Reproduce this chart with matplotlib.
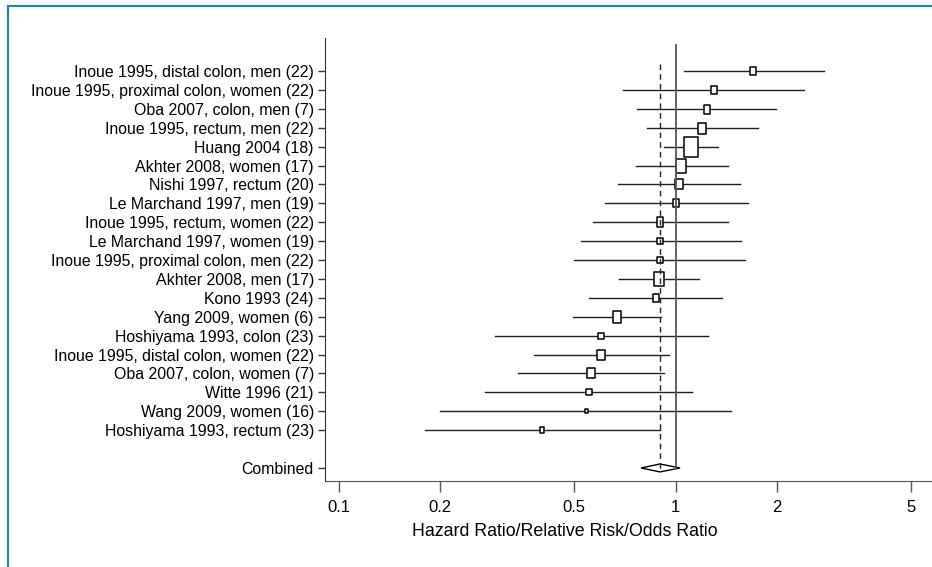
import numpy as np
import matplotlib.pyplot as plt
from matplotlib.path import Path
from matplotlib.patches import Polygon
from matplotlib.lines import Line2D

plt.rcParams['font.family'] = ['Liberation Sans', 'DejaVu Sans']

studies = ["Inoue 1995, distal colon, men (22)",
           "Inoue 1995, proximal colon, women (22)",
           "Oba 2007, colon, men (7)",
           "Inoue 1995, rectum, men (22)",
           "Huang 2004 (18)",
           "Akhter 2008, women (17)",
           "Nishi 1997, rectum (20)",
           "Le Marchand 1997, men (19)",
           "Inoue 1995, rectum, women (22)",
           "Le Marchand 1997, women (19)",
           "Inoue 1995, proximal colon, men (22)",
           "Akhter 2008, men (17)",
           "Kono 1993 (24)",
           "Yang 2009, women (6)",
           "Hoshiyama 1993, colon (23)",
           "Inoue 1995, distal colon, women (22)",
           "Oba 2007, colon, women (7)",
           "Witte 1996 (21)",
           "Wang 2009, women (16)",
           "Hoshiyama 1993, rectum (23)"]
est = [1.70, 1.30, 1.24, 1.20, 1.11, 1.04, 1.02, 1.00, 0.90, 0.90,
       0.90, 0.89, 0.876, 0.671, 0.600, 0.601, 0.562, 0.553, 0.543, 0.402]
lo = [1.06, 0.70, 0.767, 0.822, 0.921, 0.762, 0.674, 0.617, 0.567, 0.523,
      0.50, 0.68, 0.554, 0.495, 0.290, 0.380, 0.341, 0.271, 0.20, 0.18]
hi = [2.75, 2.41, 1.99, 1.75, 1.335, 1.43, 1.55, 1.64, 1.43, 1.56,
      1.61, 1.17, 1.37, 0.903, 1.25, 0.953, 0.921, 1.116, 1.46, 0.90]
# relative weight ~ box height
weight = [8, 8, 9, 11, 20, 13.3, 9.7, 8, 9.3, 6.7,
          6.7, 13.3, 8.3, 11.7, 6.7, 10, 9.7, 6.7, 4, 5.7]
comb_est, comb_lo, comb_hi = 0.898, 0.789, 1.03
xticks = [0.1, 0.2, 0.5, 1, 2, 5]

fig = plt.figure(figsize=(9.32, 5.67), dpi=100)
ax = fig.add_axes([325/932, 86/567, 607/932, 443/567])
ax.set_xscale('log')

n = len(studies)
ys = -np.arange(n)
comb_y = -21

box = Path([(-0.75, -1), (0.75, -1), (0.75, 1), (-0.75, 1), (-0.75, -1)],
           [Path.MOVETO, Path.LINETO, Path.LINETO, Path.LINETO, Path.CLOSEPOLY])

for i in range(n):
    ax.plot([lo[i], hi[i]], [ys[i], ys[i]], color='#222222', lw=1.0, zorder=2)
    ax.plot([est[i]], [ys[i]], marker=box, markersize=weight[i] * 0.72,
            markerfacecolor='white', markeredgecolor='black', mew=1.1,
            linestyle='none', zorder=3)

dy = 0.21
ax.add_patch(Polygon([(comb_lo, comb_y), (comb_est, comb_y + dy),
                      (comb_hi, comb_y), (comb_est, comb_y - dy)],
                     closed=True, facecolor='white', edgecolor='black',
                     lw=1.0, zorder=3))

ax.plot([1, 1], [1.38, comb_y], color='#555555', lw=1.3, zorder=4)
ax.plot([comb_est, comb_est], [0.37, comb_y - dy], color='#222222', lw=1.0,
        linestyle=(0, (4, 3)), zorder=4)

ax.set_xlim(10 ** ((325 - 675.7) / 337), 10 ** ((932 - 675.7) / 337))
ax.set_ylim(-21.69, 1.75)
ax.set_yticks(list(ys) + [comb_y])
ax.set_yticklabels(studies + ["Combined"], fontsize=11.4)
ax.set_xticks(xticks)
ax.set_xticklabels([str(t) for t in xticks], fontsize=12)
ax.minorticks_off()
ax.tick_params(axis='y', length=5, width=1, color='#333333', pad=3)
ax.tick_params(axis='x', length=8, width=1, color='#555555', pad=6)
ax.set_xlabel("Hazard Ratio/Relative Risk/Odds Ratio", fontsize=12.8)
ax.xaxis.set_label_coords((565 - 325) / 607, (481 - 523) / 443)
for s in ['top', 'right']:
    ax.spines[s].set_visible(False)
ax.spines['left'].set_color('#333333')
ax.spines['bottom'].set_color('#555555')

# teal frame lines (top and left)
fig.add_artist(Line2D([8/932, 1], [1 - 6/567, 1 - 6/567], color='#1a8a9e', lw=1.5,
                      transform=fig.transFigure))
fig.add_artist(Line2D([8/932, 8/932], [0, 1 - 6/567], color='#1a8a9e', lw=1.5,
                      transform=fig.transFigure))

fig.savefig('out.png', dpi=100)
